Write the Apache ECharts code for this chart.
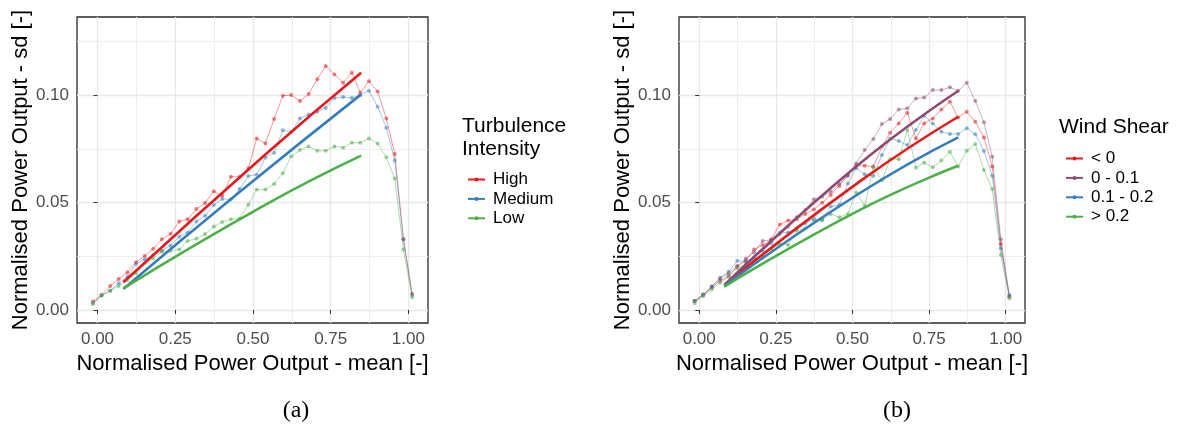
<!DOCTYPE html>
<html><head><meta charset="utf-8">
<script src="https://cdn.jsdelivr.net/npm/echarts@6/dist/echarts.min.js"></script>
<style>html,body{margin:0;padding:0;background:#fff}#c{width:1180px;height:429px}</style>
</head><body><div id="c"></div><script>
// bin centres of normalised mean power (x)
const meanBins = [-0.015,0.013,0.041,0.068,0.096,0.124,0.152,0.179,0.207,0.235,0.263,0.290,0.318,0.346,0.374,0.401,0.429,0.457,0.485,0.512,0.540,0.568,0.596,0.623,0.651,0.679,0.707,0.734,0.762,0.790,0.818,0.845,0.873,0.901,0.929,0.956,0.984,1.012];

// Panel (a): turbulence intensity
const tiHigh = [0.0039,0.0070,0.0112,0.0144,0.0175,0.0222,0.0251,0.0285,0.0329,0.0355,0.0412,0.0422,0.0470,0.0498,0.0552,0.0530,0.0620,0.0620,0.0659,0.0798,0.0775,0.0888,0.0997,0.1000,0.0972,0.1005,0.1073,0.1135,0.1096,0.1057,0.1104,0.1011,0.1064,0.1016,0.0891,0.0726,0.0329,0.0074];
const tiMedium = [0.0031,0.0068,0.0090,0.0124,0.0155,0.0214,0.0236,0.0256,0.0276,0.0299,0.0341,0.0360,0.0412,0.0439,0.0488,0.0516,0.0515,0.0563,0.0623,0.0629,0.0709,0.0732,0.0836,0.0828,0.0891,0.0909,0.0922,0.0940,0.0986,0.0991,0.0986,0.1000,0.1020,0.0946,0.0848,0.0695,0.0329,0.0070];
const tiLow = [0.0028,0.0067,0.0090,0.0112,0.0140,0.0171,0.0217,0.0240,0.0271,0.0276,0.0282,0.0321,0.0332,0.0353,0.0388,0.0409,0.0422,0.0426,0.0490,0.0560,0.0561,0.0586,0.0636,0.0715,0.0744,0.0760,0.0741,0.0741,0.0761,0.0755,0.0778,0.0778,0.0798,0.0775,0.0710,0.0612,0.0282,0.0059];
// fitted lines (a)
const fitA_x = [0.083,0.538,0.848];
const fitHigh = [0.0129,0.0721,0.1104];
const fitMediumX = [0.083,0.458,0.848];
const fitMedium = [0.0098,0.0550,0.1003];
const fitLow = [0.0101,0.0488,0.0718];

// Panel (b): wind shear
const wsNeg = [0.0042,0.0070,0.0105,0.0136,0.0158,0.0202,0.0229,0.0282,0.0302,0.0329,0.0398,0.0416,0.0422,0.0447,0.0468,0.0499,0.0535,0.0577,0.0628,0.0671,0.0671,0.0667,0.0760,0.0825,0.0868,0.0918,0.0798,0.0868,0.0891,0.0933,0.0969,0.0896,0.0922,0.0876,0.0802,0.0667,0.0307,0.0062];
const ws0_01 = [0.0042,0.0073,0.0109,0.0147,0.0171,0.0205,0.0240,0.0268,0.0321,0.0326,0.0353,0.0388,0.0431,0.0465,0.0515,0.0527,0.0550,0.0586,0.0623,0.0682,0.0744,0.0795,0.0865,0.0888,0.0933,0.0938,0.0984,0.0988,0.1023,0.1023,0.1036,0.1020,0.1057,0.0972,0.0873,0.0713,0.0329,0.0065];
const ws01_02 = [0.0042,0.0070,0.0109,0.0150,0.0178,0.0229,0.0225,0.0245,0.0276,0.0310,0.0360,0.0360,0.0380,0.0403,0.0425,0.0419,0.0481,0.0488,0.0589,0.0659,0.0631,0.0623,0.0721,0.0798,0.0786,0.0767,0.0837,0.0904,0.0868,0.0829,0.0819,0.0819,0.0845,0.0817,0.0740,0.0625,0.0287,0.0070];
const ws02 = [0.0031,0.0065,0.0096,0.0127,0.0155,0.0194,0.0214,0.0233,0.0251,0.0282,0.0307,0.0302,0.0369,0.0380,0.0416,0.0419,0.0447,0.0431,0.0447,0.0546,0.0484,0.0664,0.0602,0.0702,0.0701,0.0837,0.0662,0.0685,0.0664,0.0695,0.0736,0.0667,0.0741,0.0772,0.0651,0.0563,0.0256,0.0054];
// fitted lines (b)
const fitB_x = [0.082,0.523,0.845];
const fitNeg = [0.0116,0.0597,0.0899];
const fit0_01X = [0.082,0.518,0.846];
const fit0_01 = [0.0116,0.0674,0.1020];
const fit01_02 = [0.0113,0.0543,0.0803];
const fit02 = [0.0109,0.0465,0.0671];

const xTicks = [0, 0.25, 0.5, 0.75, 1.0];
const xMinor = [0.125, 0.375, 0.625, 0.875];
const yTicks = [0, 0.05, 0.10];
const yMinor = [0.025, 0.075, 0.125];

const FONT = '"Liberation Sans", Arial, sans-serif';
const RED='#E41A1C', BLUE='#377EB8', GREEN='#4DAF4A', PURPLE='#8D4B72';

function pts(xs, ys){ return ys.map((y,i)=>[xs[i], y]); }

function thin(name, ys, color, gi){
  return {type:'line', name, xAxisIndex:gi*2, yAxisIndex:gi*2, data:pts(meanBins, ys),
    symbol:'circle', symbolSize:4, showSymbol:true, silent:true, z:2,
    lineStyle:{width:1, color, opacity:0.45}, itemStyle:{color, opacity:0.55}};
}
function thick(name, xs, ys, color, gi){
  return {type:'line', name, xAxisIndex:gi*2, yAxisIndex:gi*2, data:pts(xs, ys),
    symbol:'none', smooth:true, silent:true, z:3, lineStyle:{width:2.6, color}, itemStyle:{color}};
}

function xAxes(gi){
  return [
    {type:'value', gridIndex:gi, min:-0.066, max:1.063,
     axisLine:{show:false},
     axisTick:{show:true, length:4, lineStyle:{color:'#333', width:1}, customValues:xTicks},
     axisLabel:{customValues:xTicks, formatter:v=>v.toFixed(2), fontSize:17, color:'#4d4d4d', fontFamily:FONT, margin:8},
     splitLine:{show:true, lineStyle:{color:'#e8e8e8', width:1.4}},
     name:'Normalised Power Output - mean [-]', nameLocation:'middle', nameGap:27,
     nameTextStyle:{fontSize:22, color:'#000', fontFamily:FONT}},
    {type:'value', gridIndex:gi, min:-0.066, max:1.063, position:'bottom',
     axisLine:{show:false}, axisTick:{show:false, customValues:xMinor}, axisLabel:{show:false},
     splitLine:{show:true, lineStyle:{color:'#eeeeee', width:1}}}
  ];
}
function yAxes(gi){
  return [
    {type:'value', gridIndex:gi, min:-0.00605, max:0.1363,
     axisLine:{show:false},
     axisTick:{show:true, length:4, lineStyle:{color:'#333', width:1}, customValues:yTicks},
     axisLabel:{customValues:yTicks, formatter:v=>v.toFixed(2), fontSize:17, color:'#4d4d4d', fontFamily:FONT, margin:8},
     splitLine:{show:true, lineStyle:{color:'#e8e8e8', width:1.4}},
     name:'Normalised Power Output - sd [-]', nameLocation:'middle', nameGap:42,
     nameTextStyle:{fontSize:22, color:'#000', fontFamily:FONT}},
    {type:'value', gridIndex:gi, min:-0.00605, max:0.1363, position:'left',
     axisLine:{show:false}, axisTick:{show:false, customValues:yMinor}, axisLabel:{show:false},
     splitLine:{show:true, lineStyle:{color:'#eeeeee', width:1}}}
  ];
}

function legend(names, left, top){
  return {data:names, orient:'vertical', left, top, itemWidth:17, itemHeight:5, itemGap:2.4,
    selectedMode:false,
    textStyle:{fontSize:17, lineHeight:17, color:'#000', fontFamily:FONT, padding:[0,0,0,3]},
    itemStyle:{opacity:1}, lineStyle:{opacity:1, width:2}};
}

const chart = echarts.init(document.getElementById('c'), null, {renderer:'canvas'});
chart.setOption({
  animation:false,
  backgroundColor:'#fff',
  grid:[
    {left:77, top:17, width:351, height:306, show:true, borderColor:'#2a2a2a', borderWidth:1.3, backgroundColor:'transparent'},
    {left:679, top:17, width:346, height:306, show:true, borderColor:'#2a2a2a', borderWidth:1.3, backgroundColor:'transparent'}
  ],
  xAxis:[...xAxes(0), ...xAxes(1)],
  yAxis:[...yAxes(0), ...yAxes(1)],
  legend:[
    legend(['High','Medium','Low'], 462, 166),
    legend(['< 0','0 - 0.1','0.1 - 0.2','> 0.2'], 1060, 145)
  ],
  graphic:[
    {type:'text', x:462, y:115, style:{text:'Turbulence\nIntensity', font:'21px "Liberation Sans"', fill:'#000', lineHeight:23}},
    {type:'text', x:1059, y:117, style:{text:'Wind Shear', font:'21px "Liberation Sans"', fill:'#000'}},
    {type:'text', x:296, y:411, style:{text:'(a)', font:'24px "Liberation Serif"', fill:'#000', align:'center', verticalAlign:'middle'}},
    {type:'text', x:897, y:411, style:{text:'(b)', font:'24px "Liberation Serif"', fill:'#000', align:'center', verticalAlign:'middle'}}
  ],
  series:[
    thin('High', tiHigh, RED, 0),
    thin('Medium', tiMedium, BLUE, 0),
    thin('Low', tiLow, GREEN, 0),
    thick('High fit', fitA_x, fitHigh, RED, 0),
    thick('Medium fit', fitMediumX, fitMedium, BLUE, 0),
    thick('Low fit', fitA_x, fitLow, GREEN, 0),
    thin('< 0', wsNeg, RED, 1),
    thin('0 - 0.1', ws0_01, PURPLE, 1),
    thin('0.1 - 0.2', ws01_02, BLUE, 1),
    thin('> 0.2', ws02, GREEN, 1),
    thick('< 0 fit', fitB_x, fitNeg, RED, 1),
    thick('0 - 0.1 fit', fit0_01X, fit0_01, PURPLE, 1),
    thick('0.1 - 0.2 fit', fitB_x, fit01_02, BLUE, 1),
    thick('> 0.2 fit', fitB_x, fit02, GREEN, 1)
  ]
});
</script></body></html>
